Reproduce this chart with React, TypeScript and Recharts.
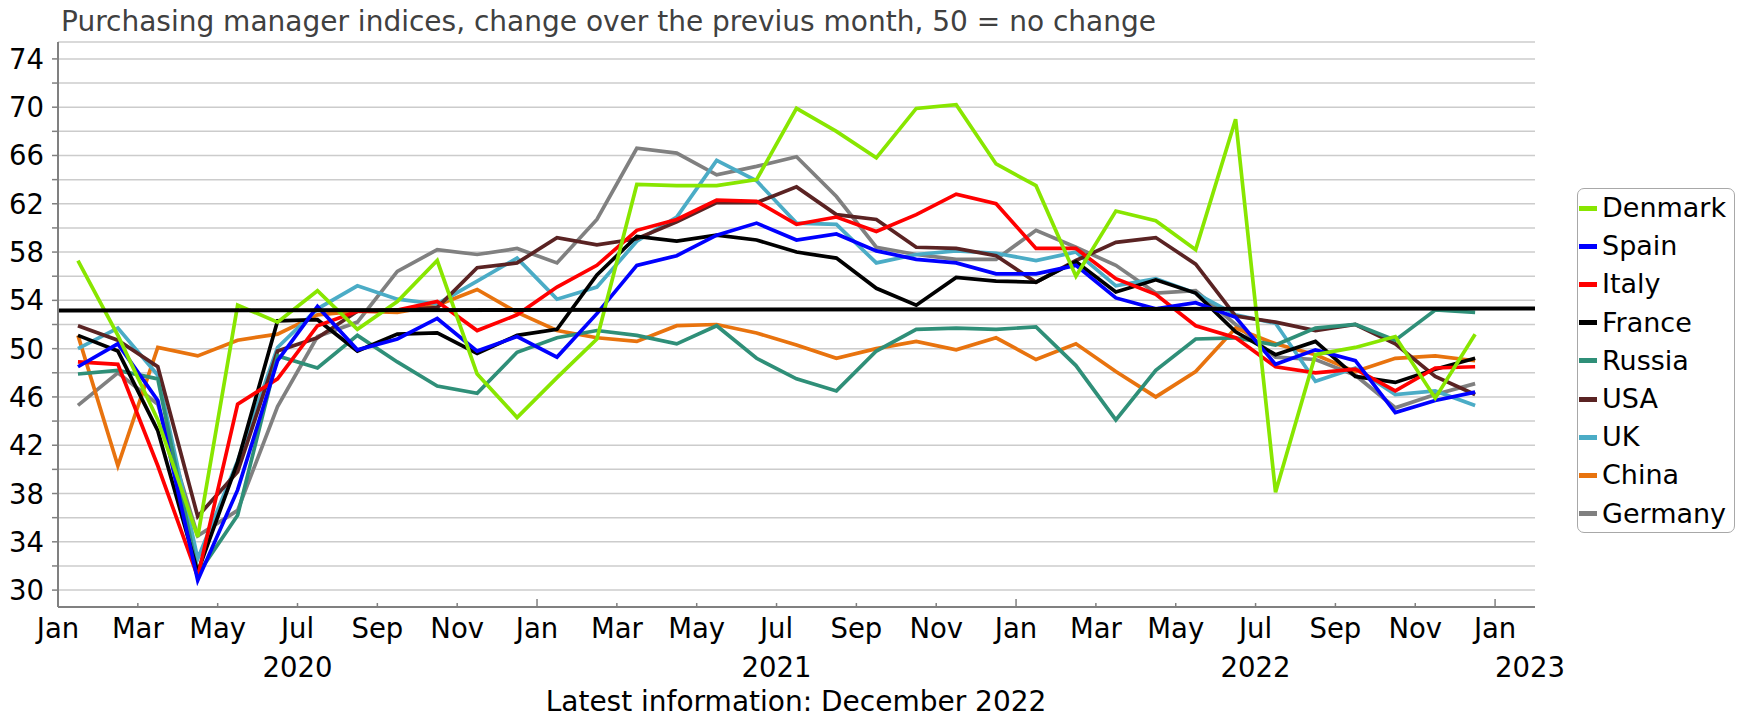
import React from "react";
import { LineChart, Line, XAxis, YAxis, CartesianGrid, ReferenceLine } from "recharts";

const seriesNames = ["Denmark", "Spain", "Italy", "France", "Russia", "USA", "UK", "China", "Germany"];
const seriesColors = ["#88e600", "#0000ff", "#ff0000", "#000000", "#2f8f78", "#5a2323", "#4bacc6", "#e8730e", "#808080"];

const denmark = [57.3, 51.1, 44.1, 34.4, 53.6, 52.2, 54.8, 51.6, 53.9, 57.3, 47.9, 44.3, 47.6, 50.8, 63.6, 63.5, 63.5, 64.0, 69.9, 68.0, 65.8, 69.9, 70.2, 65.3, 63.5, 56.0, 61.4, 60.6, 58.2, 69.0, 38.1, 49.5, 50.1, 51.0, 45.9, 51.2];
const spain = [48.5, 50.4, 45.7, 30.8, 38.3, 49.0, 53.5, 49.9, 50.8, 52.5, 49.8, 51.0, 49.3, 52.9, 56.9, 57.7, 59.4, 60.4, 59.0, 59.5, 58.1, 57.4, 57.1, 56.2, 56.2, 56.9, 54.2, 53.3, 53.8, 52.6, 48.7, 49.9, 49.0, 44.7, 45.7, 46.4];
const italy = [48.9, 48.7, 40.3, 31.1, 45.4, 47.5, 51.9, 53.1, 53.2, 53.9, 51.5, 52.8, 55.1, 56.9, 59.8, 60.7, 62.3, 62.2, 60.3, 60.9, 59.7, 61.1, 62.8, 62.0, 58.3, 58.3, 55.8, 54.5, 51.9, 50.9, 48.5, 48.0, 48.3, 46.5, 48.4, 48.5];
const france = [51.1, 49.8, 43.2, 31.5, 40.6, 52.3, 52.4, 49.8, 51.2, 51.3, 49.6, 51.1, 51.6, 56.1, 59.3, 58.9, 59.4, 59.0, 58.0, 57.5, 55.0, 53.6, 55.9, 55.6, 55.5, 57.2, 54.7, 55.7, 54.6, 51.4, 49.5, 50.6, 47.7, 47.2, 48.3, 49.2];
const russia = [47.9, 48.2, 47.5, 31.3, 36.2, 49.4, 48.4, 51.1, 48.9, 46.9, 46.3, 49.7, 50.9, 51.5, 51.1, 50.4, 51.9, 49.2, 47.5, 46.5, 49.8, 51.6, 51.7, 51.6, 51.8, 48.6, 44.1, 48.2, 50.8, 50.9, 50.3, 51.7, 52.0, 50.7, 53.2, 53.0];
const usa = [51.9, 50.7, 48.5, 36.1, 39.8, 49.8, 50.9, 53.1, 53.2, 53.4, 56.7, 57.1, 59.2, 58.6, 59.1, 60.5, 62.1, 62.1, 63.4, 61.1, 60.7, 58.4, 58.3, 57.7, 55.5, 57.3, 58.8, 59.2, 57.0, 52.7, 52.2, 51.5, 52.0, 50.4, 47.7, 46.2];
const uk = [50.0, 51.7, 47.8, 32.6, 40.7, 50.1, 53.3, 55.2, 54.1, 53.7, 55.6, 57.5, 54.1, 55.1, 58.9, 60.9, 65.6, 63.9, 60.4, 60.3, 57.1, 57.8, 58.1, 57.9, 57.3, 58.0, 55.2, 55.8, 54.6, 52.8, 52.1, 47.3, 48.4, 46.2, 46.5, 45.3];
const china = [51.1, 40.3, 50.1, 49.4, 50.7, 51.2, 52.8, 53.1, 53.0, 53.6, 54.9, 53.0, 51.5, 50.9, 50.6, 51.9, 52.0, 51.3, 50.3, 49.2, 50.0, 50.6, 49.9, 50.9, 49.1, 50.4, 48.1, 46.0, 48.1, 51.7, 50.4, 49.5, 48.1, 49.2, 49.4, 49.0];
const germany = [45.3, 48.0, 45.4, 34.5, 36.6, 45.2, 51.0, 52.2, 56.4, 58.2, 57.8, 58.3, 57.1, 60.7, 66.6, 66.2, 64.4, 65.1, 65.9, 62.6, 58.4, 57.8, 57.4, 57.4, 59.8, 58.4, 56.9, 54.6, 54.8, 52.0, 49.3, 49.1, 47.8, 45.1, 46.2, 47.1];

const seriesValues = [denmark, spain, italy, france, russia, usa, uk, china, germany];

// month index (0 = Jan 2020) tick positions and labels
const xTicks = [0, 2, 4, 6, 8, 10, 12, 14, 16, 18, 20, 22, 24, 26, 28, 30, 32, 34, 36];
const monthLabels = ["Jan", "Mar", "May", "Jul", "Sep", "Nov"];
const yearLabels: Record<number, string> = { 6: "2020", 18: "2021", 30: "2022", 36: "2023" };
const yTicks = [30, 32, 34, 36, 38, 40, 42, 44, 46, 48, 50, 52, 54, 56, 58, 60, 62, 64, 66, 68, 70, 72, 74];
const benchmarkLine = [{ x: 0, y: 53.15 }, { x: 37, y: 53.33 }];

const title = "Purchasing manager indices, change over the previus month, 50 = no change";
const footnote = "Latest information: December 2022";

const data = denmark.map((_, i) => {
  const row: Record<string, number> = { t: i + 0.5 };
  seriesNames.forEach((n, k) => {
    row[n] = seriesValues[k][i];
  });
  return row;
});

const FONT = "'DejaVu Sans', Verdana, sans-serif";

const MonthTick = (props: any) => {
  const { x, y, payload } = props;
  const v = payload.value as number;
  const isJan = v % 12 === 0;
  const label = monthLabels[(v % 12) / 2];
  const year = yearLabels[v];
  return (
    <g>
      <line x1={x} x2={x} y1={y} y2={y - (isJan ? 8 : 4)} stroke="#808080" strokeWidth={1.5} />
      <text x={x} y={y + 31} textAnchor="middle" fontSize={27.5} fontFamily={FONT} fill="#000">
        {label}
      </text>
      {year ? (
        <text x={x} y={y + 70} textAnchor={v === 36 ? "start" : "middle"} fontSize={27.5} fontFamily={FONT} fill="#000">
          {year}
        </text>
      ) : null}
    </g>
  );
};

const ValueTick = (props: any) => {
  const { x, y, payload } = props;
  const v = payload.value as number;
  const show = (v - 30) % 4 === 0;
  return (
    <g>
      <line x1={x} x2={x - 6} y1={y} y2={y} stroke="#808080" strokeWidth={1.5} />
      {show ? (
        <text x={x - 14} y={y + 10} textAnchor="end" fontSize={27.5} fontFamily={FONT} fill="#000">
          {v}
        </text>
      ) : null}
    </g>
  );
};

export default function App() {
  const drawOrder = seriesNames.map((n, k) => k).reverse();
  return (
    <div style={{ position: "absolute", left: 0, top: 0, width: 1738, height: 715, background: "#fff", fontFamily: FONT }}>
      <div style={{ position: "absolute", left: 61, top: 6, fontSize: 28, lineHeight: "32px", color: "#404040", whiteSpace: "nowrap" }}>
        {title}
      </div>
      <LineChart width={1738} height={715} data={data} margin={{ top: 42, right: 203, bottom: 0, left: 0 }}>
        <CartesianGrid vertical={false} stroke="#cccccc" strokeWidth={1.5} />
        <XAxis
          dataKey="t"
          type="number"
          domain={[0, 37]}
          ticks={xTicks}
          interval={0}
          allowDataOverflow
          height={108}
          tickSize={0}
          tickMargin={0}
          tickLine={false}
          axisLine={{ stroke: "#808080", strokeWidth: 2 }}
          tick={(p: any) => <MonthTick {...p} />}
        />
        <YAxis
          type="number"
          domain={[28.6, 75.4]}
          ticks={yTicks}
          interval={0}
          allowDataOverflow
          width={58}
          tickSize={0}
          tickMargin={0}
          tickLine={false}
          axisLine={{ stroke: "#808080", strokeWidth: 2 }}
          tick={(p: any) => <ValueTick {...p} />}
        />
        {drawOrder.map((k) => (
          <Line
            key={seriesNames[k]}
            type="linear"
            dataKey={seriesNames[k]}
            stroke={seriesColors[k]}
            strokeWidth={3.7}
            dot={false}
            activeDot={false}
            isAnimationActive={false}
          />
        ))}
        <ReferenceLine segment={benchmarkLine} stroke="#000" strokeWidth={4} ifOverflow="visible" />
      </LineChart>
      <div
        style={{
          position: "absolute",
          left: 1577,
          top: 188,
          width: 156,
          height: 343,
          border: "1.5px solid #a8a8a8",
          borderRadius: 7,
          boxSizing: "content-box",
        }}
      >
        {seriesNames.map((n, k) => (
          <div key={n} style={{ display: "flex", alignItems: "center", height: 38.2, whiteSpace: "nowrap" }}>
            <div style={{ width: 18, height: 5, background: seriesColors[k], marginLeft: 1, marginRight: 5 }} />
            <span style={{ fontSize: 27, lineHeight: "38px", color: "#000" }}>{n}</span>
          </div>
        ))}
      </div>
      <div
        style={{
          position: "absolute",
          left: 796,
          top: 686,
          transform: "translateX(-50%)",
          fontSize: 28,
          lineHeight: "32px",
          color: "#000",
          whiteSpace: "nowrap",
        }}
      >
        {footnote}
      </div>
    </div>
  );
}
